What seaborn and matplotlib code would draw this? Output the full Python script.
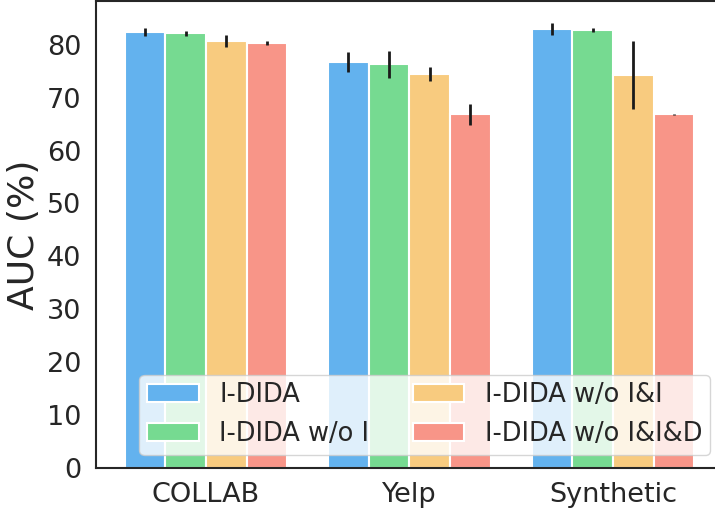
import matplotlib
matplotlib.use("Agg")
import matplotlib.pyplot as plt
import numpy as np
import pandas as pd
import seaborn as sns

datasets = ["COLLAB", "Yelp", "Synthetic"]
methods = ["I-DIDA", "I-DIDA w/o I", "I-DIDA w/o I&I", "I-DIDA w/o I&I&D"]

# mean AUC (%) per method, one value per dataset
auc_full = [82.4, 76.8, 83.0]
auc_wo_i = [82.2, 76.3, 82.8]
auc_wo_ii = [80.7, 74.5, 74.3]
auc_wo_iid = [80.3, 66.9, 66.9]

# standard deviations
std_full = [0.7, 1.9, 1.1]
std_wo_i = [0.5, 2.55, 0.4]
std_wo_ii = [1.1, 1.3, 6.4]
std_wo_iid = [0.35, 2.0, 0.1]

colors = ["#63b2ee", "#76da91", "#f8cb7f", "#f89588"]

means = [auc_full, auc_wo_i, auc_wo_ii, auc_wo_iid]
stds = [std_full, std_wo_i, std_wo_ii, std_wo_iid]

rows = []
for m, vals in zip(methods, means):
    for d, v in zip(datasets, vals):
        rows.append({"dataset": d, "method": m, "auc": v})
df = pd.DataFrame(rows)

sns.set_theme(style="white")
plt.rcParams["font.family"] = ["DejaVu Sans"]

fig = plt.figure(figsize=(7.15, 5.14), dpi=100)
ax = fig.add_axes([0.1343, 0.0901, 0.8766, 0.908])

sns.barplot(data=df, x="dataset", y="auc", hue="method", order=datasets,
            hue_order=methods, palette=colors, errorbar=None, width=0.8,
            edgecolor="white", linewidth=1.5, saturation=1, ax=ax)

# error bars centred on each bar
for container, sd in zip(ax.containers, stds):
    xs = [p.get_x() + p.get_width() / 2 for p in container.patches]
    ys = [p.get_height() for p in container.patches]
    ax.errorbar(xs, ys, yerr=sd, fmt="none", ecolor="#1a1a1a",
                elinewidth=2, capsize=0, zorder=3)

ax.set_xlim(-0.54, 2.54)
ax.set_ylim(0, 88.3)
ax.set_yticks(np.arange(0, 81, 10))
ax.set_xlabel("")
ax.set_ylabel("AUC (%)", fontsize=26, labelpad=4)
ax.tick_params(axis="both", labelsize=19.5, length=0, pad=10.5)
for s in ax.spines.values():
    s.set_color("#262626")
    s.set_linewidth(1.5)

ax.legend(loc="lower right", ncol=2, fontsize=18.5, frameon=True,
          framealpha=0.8, handletextpad=0.8, columnspacing=1.7,
          borderpad=0.3)

fig.savefig("out.png", dpi=100)
